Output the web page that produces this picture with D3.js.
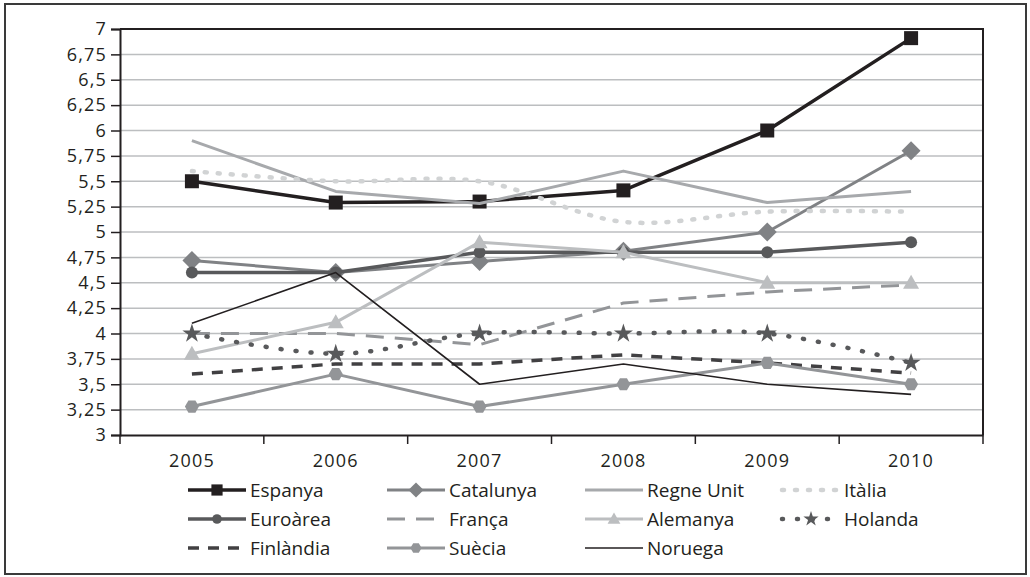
<!DOCTYPE html>
<html><head><meta charset="utf-8">
<script src="https://cdn.jsdelivr.net/npm/d3@7"></script>
<style>
body{margin:0;background:#fff;}
svg{display:block;font-family:"Open Sans",sans-serif;}
</style></head><body>
<svg id="c" width="1030" height="577"></svg>
<script>
const years = ["2005","2006","2007","2008","2009","2010"];
const yTicks = [3,3.25,3.5,3.75,4,4.25,4.5,4.75,5,5.25,5.5,5.75,6,6.25,6.5,6.75,7];
const espanya   = [5.5, 5.29, 5.3, 5.41, 6.0, 6.91];
const catalunya = [4.72, 4.6, 4.71, 4.81, 5.0, 5.8];
const regneUnit = [5.9, 5.4, 5.28, 5.6, 5.29, 5.4];
const italia    = [5.6, 5.5, 5.5, 5.1, 5.2, 5.2];
const euroarea  = [4.6, 4.6, 4.8, 4.8, 4.8, 4.9];
const franca    = [4.0, 4.0, 3.89, 4.3, 4.41, 4.48];
const alemanya  = [3.8, 4.11, 4.9, 4.8, 4.5, 4.5];
const holanda   = [4.0, 3.8, 4.0, 4.0, 4.0, 3.71];
const finlandia = [3.6, 3.7, 3.7, 3.79, 3.71, 3.61];
const suecia    = [3.28, 3.6, 3.28, 3.5, 3.71, 3.5];
const noruega   = [4.1, 4.6, 3.5, 3.7, 3.5, 3.4];

const series = [
 {name:"Espanya", values:espanya, color:"#231f20", w:3.5, marker:"square", size:14},
 {name:"Catalunya", values:catalunya, color:"#808285", w:3, marker:"diamond", size:19},
 {name:"Regne Unit", values:regneUnit, color:"#a7a9ac", w:3, marker:null},
 {name:"Itàlia", values:italia, color:"#d1d3d4", w:4.5, marker:null, dash:"2 11", cap:"round", curve:true},
 {name:"Euroàrea", values:euroarea, color:"#58595b", w:3.5, marker:"circle", size:12},
 {name:"França", values:franca, color:"#939598", w:3, marker:null, dash:"18 11"},
 {name:"Alemanya", values:alemanya, color:"#bcbec0", w:3, marker:"triangle", size:16},
 {name:"Holanda", values:holanda, color:"#58595b", w:4.5, marker:"star", size:18, dash:"1 14", cap:"round", curve:true},
 {name:"Finlàndia", values:finlandia, color:"#414042", w:3.5, marker:null, dash:"11 9"},
 {name:"Suècia", values:suecia, color:"#939598", w:3, marker:"hex", size:14},
 {name:"Noruega", values:noruega, color:"#231f20", w:1.6, marker:null}
];

const svg = d3.select("#c");
svg.append("rect").attr("x",5).attr("y",4).attr("width",1021).attr("height",570)
  .attr("fill","#fff").attr("stroke","#3a3a3a").attr("stroke-width",2);

const L=120, R=983, T=29, B=435;
const x = d3.scaleBand().domain(years).range([L,R]);
const y = d3.scaleLinear().domain([3,7]).range([B,T]);
const cx = d => x(d)+x.bandwidth()/2;

svg.append("g").selectAll("line").data(yTicks.filter(t=>t>3&&t<7)).join("line")
  .attr("x1",L).attr("x2",R).attr("y1",d=>y(d)).attr("y2",d=>y(d))
  .attr("stroke","#bcbec0").attr("stroke-width",1.5);
svg.append("path").attr("d",`M${L},${T}H${R}V${B}`).attr("fill","none").attr("stroke","#231f20").attr("stroke-width",2);

const fmt = d => String(d).replace(".",",");
const ya = svg.append("g").attr("transform",`translate(${L},0)`)
  .call(d3.axisLeft(y).tickValues(yTicks).tickFormat(fmt).tickSize(9).tickPadding(4));
ya.select(".domain").attr("stroke","#231f20").attr("stroke-width",2);
ya.selectAll(".tick line").attr("stroke","#231f20").attr("stroke-width",1.5);
ya.selectAll("text").attr("font-size",18).attr("fill","#231f20").attr("font-family","Open Sans").style("letter-spacing","1.2px");

const xa = svg.append("g").attr("transform",`translate(0,${B})`)
  .call(d3.axisBottom(x).tickSize(0).tickPadding(19));
xa.select(".domain").attr("stroke","#231f20").attr("stroke-width",2);
xa.selectAll("text").attr("font-size",18).attr("fill","#231f20").attr("font-family","Open Sans").style("letter-spacing","1.2px");
xa.selectAll(".bt").data(d3.range(years.length+1)).join("line")
  .attr("x1",i=>L+i*x.step()).attr("x2",i=>L+i*x.step()).attr("y1",0).attr("y2",9)
  .attr("stroke","#231f20").attr("stroke-width",1.5);

function markerPath(type,size){
  const s=size/2;
  if(type==="square") return `M${-s},${-s}h${size}v${size}h${-size}Z`;
  if(type==="diamond") return `M0,${-s}L${s},0L0,${s}L${-s},0Z`;
  if(type==="circle") return d3.symbol(d3.symbolCircle, Math.PI*s*s)();
  if(type==="triangle") return `M0,${-s}L${s},${s*0.75}L${-s},${s*0.75}Z`;
  if(type==="star") return d3.symbol(d3.symbolStar, size*size*0.35)();
  if(type==="hex"){const p=[];for(let i=0;i<6;i++){const a=Math.PI/3*i;p.push([s*Math.cos(a),s*Math.sin(a)]);}return "M"+p.map(q=>q.join(",")).join("L")+"Z";}
}

series.forEach(s=>{
  const line = d3.line().x((d,i)=>cx(years[i])).y(d=>y(d))
    .curve(s.curve?d3.curveCatmullRom.alpha(0.5):d3.curveLinear);
  svg.append("path").datum(s.values).attr("d",line).attr("fill","none")
    .attr("stroke",s.color).attr("stroke-width",s.w)
    .attr("stroke-dasharray",s.dash||null).attr("stroke-linecap",s.cap||"butt")
    .attr("stroke-linejoin","round");
  if(s.marker){
    svg.append("g").selectAll("path").data(s.values).join("path")
      .attr("transform",(d,i)=>`translate(${cx(years[i])},${y(d)})`)
      .attr("d",markerPath(s.marker,s.size)).attr("fill",s.color);
  }
});

const colX=[188,387,585,782], rowY=[490,519,548];
series.forEach((s,i)=>{
  const c=i%4, r=Math.floor(i/4);
  const g=svg.append("g").attr("transform",`translate(${colX[c]},${rowY[r]})`);
  g.append("line").attr("x1",0).attr("x2",58).attr("y1",0).attr("y2",0)
    .attr("stroke",s.color).attr("stroke-width",s.w)
    .attr("stroke-dasharray",s.dash||null).attr("stroke-linecap",s.cap||"butt");
  if(s.marker){
    g.append("path").attr("transform","translate(29,0)").attr("d",markerPath(s.marker,s.size*0.8)).attr("fill",s.color);
  }
  g.append("text").attr("x",62).attr("y",7).attr("font-size",19).attr("fill","#231f20").text(s.name);
});
</script>
</body></html>
